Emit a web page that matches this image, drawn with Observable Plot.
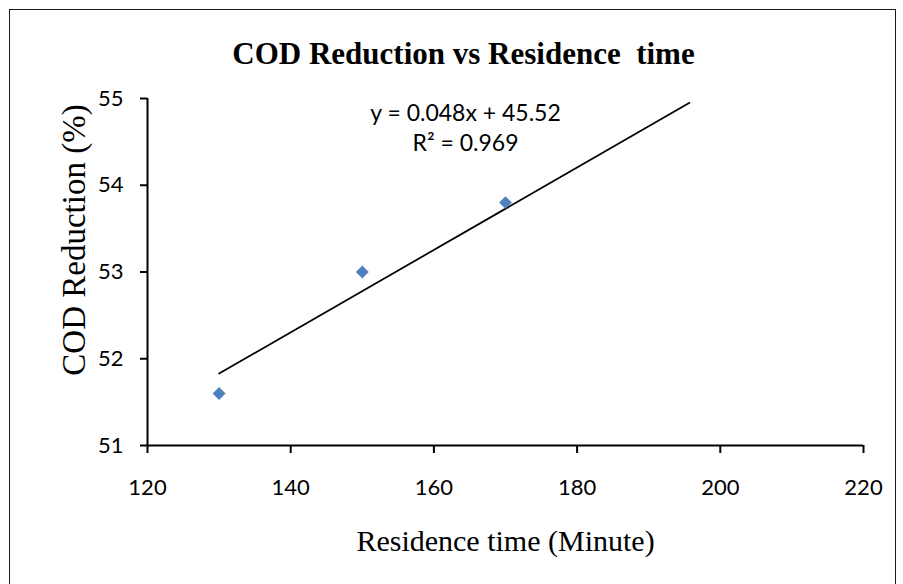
<!DOCTYPE html>
<html><head><meta charset="utf-8">
<script src="https://cdn.jsdelivr.net/npm/d3@7"></script>
<script src="https://cdn.jsdelivr.net/npm/@observablehq/plot@0.6"></script>
<style>
html,body{margin:0;padding:0;background:#fff;}
#wrap{position:relative;width:903px;height:584px;overflow:hidden;}
#chart{position:absolute;left:0;top:0;}
#border{position:absolute;left:9px;top:9px;width:887px;height:600px;border:1.5px solid #1a1a1a;box-sizing:border-box;pointer-events:none;}
#chart svg g[aria-label="x-axis tick"] path,
#chart svg g[aria-label="y-axis tick"] path{stroke:#000;stroke-width:2px;stroke-opacity:1;}
</style></head><body>
<div id="wrap"><div id="chart"></div><div id="border"></div></div>
<script>
// Data
const times = [130, 150, 170];
const codReduction = [51.6, 53.0, 53.8];
const trendX = [130, 195.7];
const trendY = [51.83, 54.95];
const xTicks = [120, 140, 160, 180, 200, 220];
const yTicks = [51, 52, 53, 54, 55];
const titleText = "COD Reduction vs Residence \u00a0time";
const equationText = "y = 0.048x + 45.52\nR\u00b2 = 0.969";
const xLabel = "Residence time (Minute)";
const yLabel = "COD Reduction (%)";

const points = times.map((t, i) => ({t, c: codReduction[i]}));
const trend = trendX.map((x, i) => ({x, y: trendY[i]}));
const sans = "Lato, 'Open Sans', sans-serif";
const serif = "'Liberation Serif', 'DejaVu Serif', serif";

const chart = Plot.plot({
  width: 903, height: 584,
  marginLeft: 147, marginRight: 40, marginTop: 98, marginBottom: 139,
  style: {background: "white", color: "black"},
  x: {domain: [120, 220]},
  y: {domain: [51, 55]},
  marks: [
    Plot.ruleX([120], {stroke: "#000", strokeWidth: 2}),
    Plot.ruleY([51], {stroke: "#000", strokeWidth: 2}),
    Plot.axisX({ticks: xTicks, tickSize: 8, tickPadding: 26, fontSize: 22, fontFamily: sans, strokeWidth: 2, stroke: "#000", fill: "#000", label: null, tickFormat: d => String(d)}),
    Plot.axisY({ticks: yTicks, tickSize: 7, tickPadding: 17, fontSize: 22, fontFamily: sans, strokeWidth: 2, stroke: "#000", fill: "#000", label: null, tickFormat: d => String(d)}),
    Plot.line(trend, {x: "x", y: "y", stroke: "#000", strokeWidth: 1.75}),
    Plot.dot(points, {x: "t", y: "c", symbol: "diamond2", r: 5.8, fill: "#4F81BD", stroke: "none"}),
    Plot.text([titleText], {text: d => d, frameAnchor: "top", textAnchor: "middle", lineAnchor: "bottom", dx: -42, dy: -35, fontSize: 31, fontWeight: "bold", fontFamily: serif, fill: "#000"}),
    Plot.text([equationText], {text: d => d, frameAnchor: "top", textAnchor: "middle", lineAnchor: "bottom", dx: -40, dy: 52, lineHeight: 1.28, fontSize: 23, fontFamily: sans, fill: "#000"}),
    Plot.text([xLabel], {text: d => d, frameAnchor: "bottom", textAnchor: "middle", lineAnchor: "bottom", dy: 105, fontSize: 30, fontFamily: serif, fill: "#000"}),
    Plot.text([yLabel], {text: d => d, frameAnchor: "left", textAnchor: "middle", lineAnchor: "middle", rotate: -90, dx: -73, dy: -32, fontSize: 33, fontFamily: serif, fill: "#000"})
  ]
});
document.getElementById("chart").appendChild(chart);
</script>
</body></html>
